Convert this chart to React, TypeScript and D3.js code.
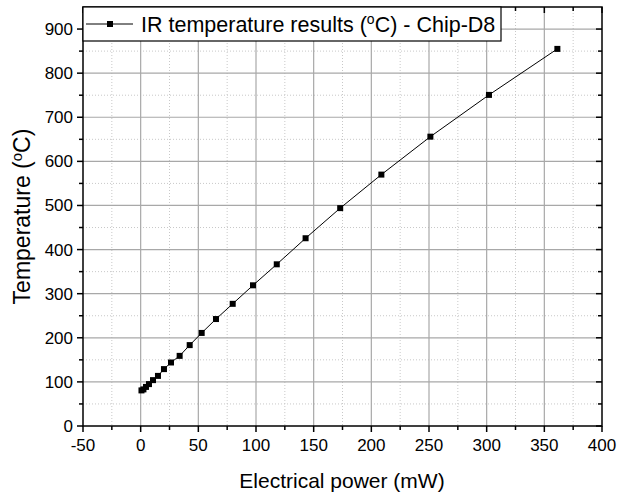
import React from "react";
import * as d3 from "d3";

// electrical power (mW) vs IR temperature (°C), Chip-D8
const power = [0.7, 2.4, 4.6, 7.2, 10.7, 15, 20.2, 26.3, 33.8, 42.5, 52.9, 65.3, 79.8, 97.4, 118, 143, 173, 208.7, 251.2, 302, 361.3];
const temperature = [80.7, 83, 88.6, 95, 104, 113.6, 129, 144, 159, 183.4, 211, 242.5, 277, 319, 366.6, 425.7, 494, 570, 656, 750.7, 855];
const xTicks = [-50, 0, 50, 100, 150, 200, 250, 300, 350, 400];
const yTicks = [0, 100, 200, 300, 400, 500, 600, 700, 800, 900];
const xMinor = [-25, 25, 75, 125, 175, 225, 275, 325, 375];
const yMinor = [50, 150, 250, 350, 450, 550, 650, 750, 850];

const W = 617;
const H = 495;
const left = 83, right = 602, top = 7, bottom = 426;
const font = "'Liberation Sans', Arial, sans-serif";

export default function App() {
  const x = d3.scaleLinear().domain([-50, 400]).range([left, right]);
  const y = d3.scaleLinear().domain([0, 950]).range([bottom, top]);
  const pts = power.map((p, i) => [p, temperature[i]] as [number, number]);
  const line = d3.line<[number, number]>().x((d) => x(d[0])).y((d) => y(d[1]));

  return (
    <svg width={W} height={H} style={{ position: "absolute", left: 0, top: 0 }} fontFamily={font}>
      <rect width={W} height={H} fill="#fff" />
      {/* grid */}
      {xMinor.map((t) => (
        <line key={"xm" + t} x1={x(t)} x2={x(t)} y1={top} y2={bottom} stroke="#c8c8c8" strokeDasharray="1,2" />
      ))}
      {yMinor.map((t) => (
        <line key={"ym" + t} x1={left} x2={right} y1={y(t)} y2={y(t)} stroke="#c8c8c8" strokeDasharray="1,2" />
      ))}
      {xTicks.slice(1, -1).map((t) => (
        <line key={"xg" + t} x1={x(t)} x2={x(t)} y1={top} y2={bottom} stroke="#a8a8a8" strokeWidth={1.2} />
      ))}
      {yTicks.slice(1).map((t) => (
        <line key={"yg" + t} x1={left} x2={right} y1={y(t)} y2={y(t)} stroke="#a8a8a8" strokeWidth={1.2} />
      ))}

      {/* data */}
      <path d={line(pts) || ""} fill="none" stroke="#000" strokeWidth={1} />
      {pts.map((d, i) => (
        <rect key={i} x={x(d[0]) - 3} y={y(d[1]) - 3} width={6} height={6} fill="#000" />
      ))}

      {/* frame */}
      <rect x={left} y={top} width={right - left} height={bottom - top} fill="none" stroke="#000" strokeWidth={1.5} />

      {/* ticks */}
      {xTicks.map((t) => (
        <g key={"xt" + t}>
          <line x1={x(t)} x2={x(t)} y1={bottom} y2={bottom + 6} stroke="#000" strokeWidth={1.5} />
          <line x1={x(t)} x2={x(t)} y1={top} y2={top + 6} stroke="#000" strokeWidth={1.5} />
          <text x={x(t)} y={bottom + 25} textAnchor="middle" fontSize={17}>{t}</text>
        </g>
      ))}
      {xMinor.map((t) => (
        <g key={"xmt" + t}>
          <line x1={x(t)} x2={x(t)} y1={bottom} y2={bottom + 4} stroke="#000" strokeWidth={1.5} />
          <line x1={x(t)} x2={x(t)} y1={top} y2={top + 4} stroke="#000" strokeWidth={1.5} />
        </g>
      ))}
      {yTicks.map((t) => (
        <g key={"yt" + t}>
          <line x1={left - 6} x2={left} y1={y(t)} y2={y(t)} stroke="#000" strokeWidth={1.5} />
          <line x1={right - 6} x2={right} y1={y(t)} y2={y(t)} stroke="#000" strokeWidth={1.5} />
          <text x={left - 10} y={y(t) + 6} textAnchor="end" fontSize={17}>{t}</text>
        </g>
      ))}
      {yMinor.map((t) => (
        <g key={"ymt" + t}>
          <line x1={left - 4} x2={left} y1={y(t)} y2={y(t)} stroke="#000" strokeWidth={1.5} />
          <line x1={right - 4} x2={right} y1={y(t)} y2={y(t)} stroke="#000" strokeWidth={1.5} />
        </g>
      ))}

      {/* axis titles */}
      <text x={342} y={488} textAnchor="middle" fontSize={21}>Electrical power (mW)</text>
      <text transform={`translate(30,${(top + bottom) / 2}) rotate(-90)`} textAnchor="middle" fontSize={23}>
        Temperature (<tspan fontSize={15} dy={-8}>o</tspan><tspan dy={8}>C)</tspan>
      </text>

      {/* legend */}
      <rect x={left} y={top} width={418} height={34} fill="#fff" stroke="#000" strokeWidth={1.2} />
      <line x1={86} x2={133} y1={24} y2={24} stroke="#000" strokeWidth={1} />
      <rect x={107} y={21} width={6} height={6} fill="#000" />
      <text x={141} y={32} fontSize={21.5}>
        IR temperature results (<tspan fontSize={14} dy={-8}>o</tspan><tspan dy={8}>C) - Chip-D8</tspan>
      </text>
    </svg>
  );
}
